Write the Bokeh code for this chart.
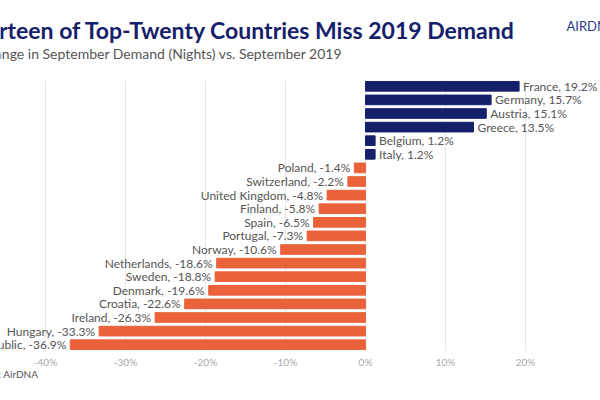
from bokeh.plotting import figure
from bokeh.models import ColumnDataSource, Range1d, FixedTicker, PrintfTickFormatter, Label, Title
from bokeh.core.properties import value
from bokeh.embed import file_html
from bokeh.resources import INLINE

countries = ["France", "Germany", "Austria", "Greece", "Belgium", "Italy", "Poland",
             "Switzerland", "United Kingdom", "Finland", "Spain", "Portugal", "Norway",
             "Netherlands", "Sweden", "Denmark", "Croatia", "Ireland", "Hungary",
             "Czech Republic"]
changes = [19.2, 15.7, 15.1, 13.5, 1.2, 1.2, -1.4, -2.2, -4.8, -5.8, -6.5, -7.3, -10.6,
           -18.6, -18.8, -19.6, -22.6, -26.3, -33.3, -36.9]
tick_values = [-40, -30, -20, -10, 0, 10, 20, 30]

title_text = "Fourteen of Top-Twenty Countries Miss 2019 Demand"
subtitle_text = "Change in September Demand (Nights) vs. September 2019"
source_text = "Source: AirDNA"
logo_text = "AIRDNA"

NAVY = "#15206b"
ORANGE = "#e9623a"

W, H = 600, 400
FRAME_H = 351
PITCH = 13.6
rows = list(range(len(countries)))
colors = [NAVY if v >= 0 else ORANGE for v in changes]
labels = [f"{c}, {v:.1f}%" for c, v in zip(countries, changes)]
aligns = ["left" if v >= 0 else "right" for v in changes]
offsets = [4 if v >= 0 else -4 for v in changes]

src = ColumnDataSource(dict(y=rows, v=changes, color=colors, label=labels,
                            align=aligns, off=offsets))
grid_src = ColumnDataSource(dict(x=tick_values, y0=[-0.45] * len(tick_values),
                                 y1=[19.5] * len(tick_values)))

p = figure(width=W, height=H, output_backend="svg", toolbar_location=None,
           x_range=Range1d(-45.625, 29.375),
           y_range=Range1d(19.5, 19.5 - FRAME_H / PITCH),
           y_axis_location=None, min_border_left=0, min_border_right=0,
           min_border_top=0, min_border_bottom=H - FRAME_H, outline_line_color=None,
           background_fill_color="white", border_fill_color="white")

p.segment(x0="x", x1="x", y0="y0", y1="y1", line_color="#e8e8e8", line_width=1,
          source=grid_src)
p.hbar(y="y", left=0, right="v", height=0.71, color="color", source=src)
p.text(x="v", y="y", text="label", x_offset="off", text_align="align",
       text_baseline="middle", text_font=value("Lato"), text_font_size="12px",
       text_color="#555555", source=src)

p.xaxis.ticker = FixedTicker(ticks=tick_values)
p.xaxis.formatter = PrintfTickFormatter(format="%d%%")
p.xaxis.axis_line_color = None
p.xaxis.major_tick_line_color = None
p.xaxis.minor_tick_line_color = None
p.xaxis.major_tick_out = 0
p.xaxis.major_tick_in = 0
p.xaxis.major_label_standoff = 4
p.xaxis.major_label_text_font = "Lato"
p.xaxis.major_label_text_font_size = "10px"
p.xaxis.major_label_text_color = "#a8a8a8"
p.grid.grid_line_color = None

p.add_layout(Label(x=515, y=FRAME_H - 29, x_units="screen", y_units="screen", text=title_text,
                   text_align="right", text_baseline="middle", text_font="Lato",
                   text_font_style="bold", text_font_size="23px", text_color=NAVY))
p.add_layout(Label(x=342, y=FRAME_H - 53, x_units="screen", y_units="screen", text=subtitle_text,
                   text_align="right", text_baseline="middle", text_font="Lato",
                   text_font_size="14px", text_color="#555555"))
p.add_layout(Label(x=566, y=FRAME_H - 25, x_units="screen", y_units="screen", text=logo_text,
                   text_align="left", text_baseline="middle", text_font="Lato",
                   text_font_size="13px", text_color="#2b3a8c"))
p.add_layout(Title(text=source_text, align="left", offset=-32, standoff=-10,
                   text_font="Lato", text_font_style="normal", text_font_size="10px",
                   text_color="#555555"), "below")

open("out.html", "w").write(file_html(p, INLINE))
